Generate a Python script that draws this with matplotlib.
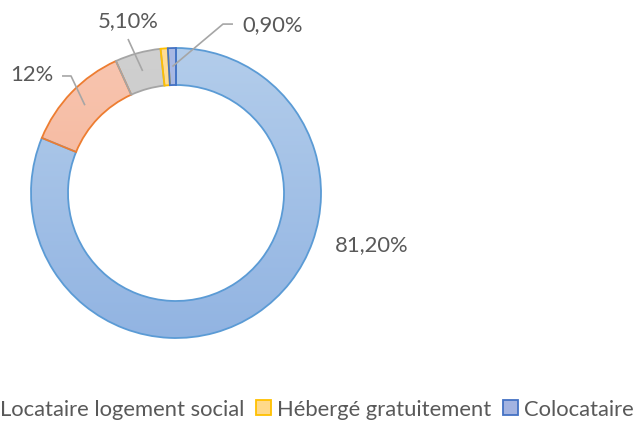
import matplotlib
matplotlib.use('Agg')
import matplotlib.pyplot as plt
import numpy as np
from matplotlib.patches import Rectangle
from matplotlib.colors import LinearSegmentedColormap

# ---- data ----
values = [81.2, 12.0, 5.1, 0.8, 0.9]
value_labels = ['81,20%', '12%', '5,10%', '', '0,90%']
legend_labels = ['Locataire logement social', 'Hébergé gratuitement', 'Colocataire']
legend_index = [2, 3, 4]

# ---- styles ----
top_colors = ['#b3cdeb', '#f8c6b1', '#d0d0d0', '#ffdd95', '#a9b9e4']
bottom_colors = ['#92b4e2', '#f3aa8b', '#c2c2c2', '#ffd47f', '#9fb0df']
edge_colors = ['#5b9bd5', '#ed7d31', '#a5a5a5', '#ffc000', '#4472c4']
face_colors = ['#a3c1e7', '#f5b69c', '#c9c9c9', '#ffd98a', '#a3b3e1']
text_color = '#595959'
line_color = '#a6a6a6'
font = ['Lato', 'DejaVu Sans']
plt.rcParams['font.family'] = font

W, H = 636, 421
fig = plt.figure(figsize=(W / 100, H / 100), dpi=100)
cx, cy, R = 176, 193, 145
ax = fig.add_axes([(cx - R) / W, (H - cy - R) / H, 2 * R / W, 2 * R / H])

ring = 37 / R
wedges, _ = ax.pie(values, startangle=90, counterclock=False, radius=1,
                   colors=face_colors,
                   wedgeprops=dict(width=ring, linewidth=1.3))
grad = np.linspace(0, 1, 256).reshape(-1, 1)
for i, w in enumerate(wedges):
    w.set_facecolor('none')
    w.set_edgecolor(edge_colors[i])
    w.set_zorder(3)
    cmap = LinearSegmentedColormap.from_list('g%d' % i, [bottom_colors[i], top_colors[i]])
    im = ax.imshow(grad, extent=(-1, 1, -1, 1), origin='lower', cmap=cmap,
                   aspect='auto', zorder=2, interpolation='bilinear')
    im.set_clip_path(w)
ax.set_xlim(-1, 1)
ax.set_ylim(-1, 1)
ax.set_aspect('equal')
ax.axis('off')

def anchor(w):
    th = np.deg2rad((w.theta1 + w.theta2) / 2)
    r = 1 - ring / 2
    return r * np.cos(th), r * np.sin(th)

fs = 15.8
# label layout: text position and leader start/bend (data units of the pie)
layout = {
    0: dict(text=(1.352, -0.359), line=None),
    1: dict(text=(-0.993, 0.814), line=[(-0.786, 0.807), (-0.724, 0.807)]),
    2: dict(text=(-0.331, 1.186), line=[(-0.331, 1.062)]),
    4: dict(text=(0.669, 1.159), line=[(0.393, 1.165), (0.324, 1.165)]),
}
for i, lay in layout.items():
    ax.text(*lay['text'], value_labels[i], ha='center', va='center',
            fontsize=fs, color=text_color, clip_on=False)
    if lay['line']:
        pts = lay['line'] + [anchor(wedges[i])]
        xs, ys = zip(*pts)
        ax.plot(xs, ys, color=line_color, lw=1.2, clip_on=False, zorder=5,
                solid_capstyle='butt')

handles = [Rectangle((0, 0), 1, 1, facecolor=face_colors[k], edgecolor=edge_colors[k], lw=1.3)
           for k in legend_index]
fig.legend(handles, legend_labels, loc='center right', bbox_to_anchor=(634 / W, (H - 409.5) / H),
           ncol=3, frameon=False, fontsize=15.8, handlelength=0.65, handleheight=0.65,
           handletextpad=0.3, columnspacing=0.55, labelcolor=text_color, borderpad=0,
           borderaxespad=0)

fig.savefig('out.png', dpi=100)
